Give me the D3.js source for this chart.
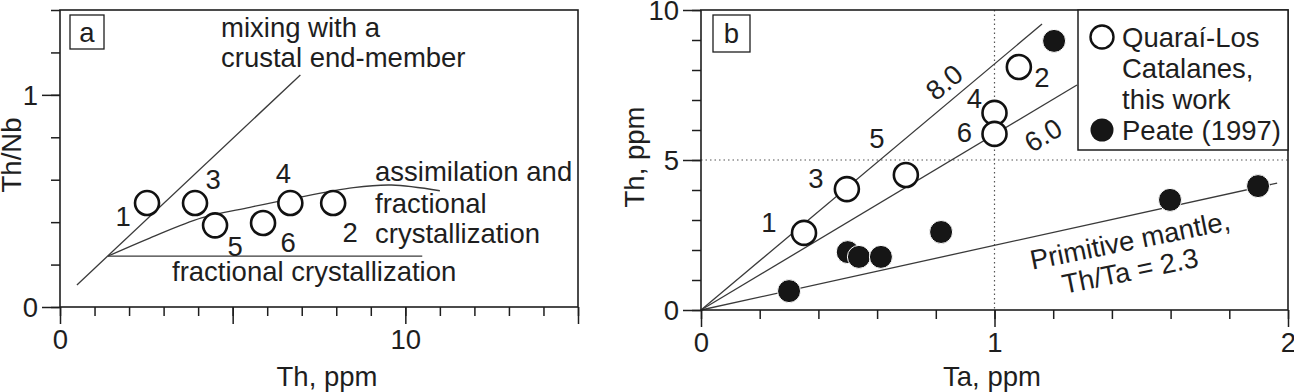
<!DOCTYPE html>
<html>
<head>
<meta charset="utf-8">
<script src="https://cdn.jsdelivr.net/npm/d3@7"></script>
<style>
  html, body { margin: 0; padding: 0; background: #fff; }
  svg text { font-family: "Liberation Sans", Arial, Helvetica, sans-serif; fill: #1e1e1e; }
</style>
</head>
<body>
<svg id="chart" width="1294" height="392"></svg>
<script>
// ---------------- DATA ----------------
// Panel a: Th/Nb vs Th (ppm)
const aSampleIds = ["1", "3", "5", "6", "4", "2"];
const aTh        = [2.52, 3.91, 4.49, 5.88, 6.67, 7.91];
const aThNb      = [0.49, 0.49, 0.385, 0.396, 0.49, 0.49];
const aXTickLabels = [0, 10];
const aYTickLabels = [0, 1];
// model trends (Th, Th/Nb)
const aMixingLine = [[0.49, 0.104], [6.96, 1.094]];
const aFracCryst  = [[1.39, 0.24], [10.49, 0.24]];
const aAFC        = [[1.39, 0.24], [2.6, 0.325], [4.1, 0.42], [5.5, 0.47], [6.7, 0.51], [8.5, 0.563], [9.6, 0.575], [11.0, 0.548]];

// Panel b: Th vs Ta (ppm)
const bSampleIds = ["1", "3", "5", "4", "6", "2"];
const bTaOpen    = [0.351, 0.497, 0.698, 1.0, 1.0, 1.083];
const bThOpen    = [2.57, 4.03, 4.5, 6.57, 5.87, 8.1];
const bTaPeate   = [0.30, 0.50, 0.538, 0.613, 0.818, 1.203, 1.598, 1.898];
const bThPeate   = [0.63, 1.93, 1.77, 1.77, 2.60, 8.97, 3.67, 4.13];
const bXTickLabels = [0, 1, 2];
const bYTickLabels = [0, 5, 10];
const bRatioNames  = ["8.0", "6.0", "Primitive mantle"];
const bRatioEnds   = [[1.162, 9.53], [1.281, 7.5], [1.963, 4.23]];
const legendLabels = [["Quaraí-Los", "Catalanes,", "this work"], ["Peate (1997)"]];

// ---------------- LAYOUT / STYLE ----------------
const FS = 27.5;
const INK = "#1e1e1e";
const LINE = "#3a3a3a";
const R = 12;

const svg = d3.select("#chart");

// scales
const ax = d3.scaleLinear().domain([0, 15]).range([60, 578]);
const ay = d3.scaleLinear().domain([0, 1.4]).range([307, 10]);
const bx = d3.scaleLinear().domain([0, 2]).range([701, 1288]);
const by = d3.scaleLinear().domain([0, 10]).range([310, 10]);

function frame(g, x, y) {
  const [x0, x1] = x.range(), [y0, y1] = y.range();
  g.append("rect").attr("x", x0).attr("y", y1).attr("width", x1 - x0).attr("height", y0 - y1)
    .attr("fill", "none").attr("stroke", INK).attr("stroke-width", 1.6);
}

function axes(g, x, y, xMinor, xMajor, yMinor, yMajor, xLabels, yLabels, xFmt, yFmt) {
  const gxMinor = g.append("g").attr("transform", `translate(0,${y.range()[0]})`)
    .call(d3.axisBottom(x).tickValues(xMinor).tickSize(9).tickFormat(""));
  const gxMajor = g.append("g").attr("transform", `translate(0,${y.range()[0]})`)
    .call(d3.axisBottom(x).tickValues(xMajor).tickSize(17).tickFormat(d => xLabels.includes(d) ? xFmt(d) : ""));
  const gyMinor = g.append("g").attr("transform", `translate(${x.range()[0]},0)`)
    .call(d3.axisLeft(y).tickValues(yMinor).tickSize(9).tickFormat(""));
  const gyMajor = g.append("g").attr("transform", `translate(${x.range()[0]},0)`)
    .call(d3.axisLeft(y).tickValues(yMajor).tickSize(18).tickFormat(d => yLabels.includes(d) ? yFmt(d) : ""));
  [gxMinor, gxMajor, gyMinor, gyMajor].forEach(a => {
    a.select(".domain").remove();
    a.selectAll(".tick line").attr("stroke", INK).attr("stroke-width", 1.5);
    a.selectAll("text").attr("font-size", FS).attr("fill", INK)
      .style("font-family", '"Liberation Sans", Arial, sans-serif');
  });
  gxMajor.selectAll("text").attr("y", 22).attr("dy", "0.71em");
  gyMajor.selectAll("text").attr("x", -22).attr("dy", "0.36em");
}

function panelLabel(g, x, y, s, t) {
  g.append("rect").attr("x", x).attr("y", y).attr("width", s).attr("height", s)
    .attr("fill", "#fff").attr("stroke", INK).attr("stroke-width", 1.3);
  g.append("text").attr("x", x + s / 2).attr("y", y + s / 2).attr("dy", "0.35em")
    .attr("text-anchor", "middle").attr("font-size", FS).text(t);
}

// ================= PANEL A =================
const ga = svg.append("g");
const line = d3.line().x(d => ax(d[0])).y(d => ay(d[1]));
ga.append("path").datum(aMixingLine).attr("d", line).attr("fill", "none").attr("stroke", LINE).attr("stroke-width", 1.3);
ga.append("path").datum(aFracCryst).attr("d", line).attr("fill", "none").attr("stroke", LINE).attr("stroke-width", 1.3);
ga.append("path").datum(aAFC).attr("d", line.curve(d3.curveCatmullRom)).attr("fill", "none").attr("stroke", LINE).attr("stroke-width", 1.3);

frame(ga, ax, ay);
axes(ga, ax, ay,
  d3.range(0, 16, 1), [0, 5, 10, 15],
  d3.range(0, 1.41, 0.2).map(v => +v.toFixed(1)), [0, 1],
  aXTickLabels, aYTickLabels, d3.format("d"), d3.format("d"));

panelLabel(ga, 70, 15, 34, "a");

// annotations
const annA = ga.append("g").attr("font-size", FS);
annA.append("text").attr("x", 221).attr("y", 37).text("mixing with a");
annA.append("text").attr("x", 221).attr("y", 67).text("crustal end-member");
annA.append("text").attr("x", 375).attr("y", 181).text("assimilation and");
annA.append("text").attr("x", 375).attr("y", 213).text("fractional");
annA.append("text").attr("x", 375).attr("y", 243).text("crystallization");
annA.append("text").attr("x", 172).attr("y", 281).text("fractional crystallization");

// samples
const aLabelOffsets = { "1": [-24, 13], "3": [18, -24], "5": [20, 21], "6": [25, 19], "4": [-7, -30], "2": [17, 29] };
const aPts = aSampleIds.map((id, i) => ({ id, x: aTh[i], y: aThNb[i] }));
ga.selectAll("circle.s").data(aPts).join("circle")
  .attr("cx", d => ax(d.x)).attr("cy", d => ay(d.y)).attr("r", R)
  .attr("fill", "#fff").attr("stroke", "#111").attr("stroke-width", 2.6);
ga.selectAll("text.id").data(aPts).join("text").attr("class", "id")
  .attr("x", d => ax(d.x) + aLabelOffsets[d.id][0]).attr("y", d => ay(d.y) + aLabelOffsets[d.id][1])
  .attr("dy", "0.36em").attr("text-anchor", "middle").attr("font-size", FS).text(d => d.id);

// axis titles
ga.append("text").attr("x", 327).attr("y", 386).attr("text-anchor", "middle").attr("font-size", FS).text("Th, ppm");
ga.append("text").attr("transform", "translate(21,155) rotate(-90)").attr("text-anchor", "middle").attr("font-size", FS).text("Th/Nb");

// ================= PANEL B =================
const gb = svg.append("g");
gb.append("line").attr("x1", bx(1)).attr("x2", bx(1)).attr("y1", by(10)).attr("y2", by(0))
  .attr("stroke", "#555").attr("stroke-width", 1.2).attr("stroke-dasharray", "1.5,3");
gb.append("line").attr("x1", bx(0)).attr("x2", bx(2)).attr("y1", by(5)).attr("y2", by(5))
  .attr("stroke", "#555").attr("stroke-width", 1.2).attr("stroke-dasharray", "1.5,3");

bRatioEnds.forEach(e => {
  gb.append("line").attr("x1", bx(0)).attr("y1", by(0)).attr("x2", bx(e[0])).attr("y2", by(e[1]))
    .attr("stroke", LINE).attr("stroke-width", 1.3);
});
function lineAngle(e) {
  return Math.atan2(by(e[1]) - by(0), bx(e[0]) - bx(0)) * 180 / Math.PI;
}
gb.append("text").attr("transform", `translate(944,82) rotate(${lineAngle(bRatioEnds[0])})`)
  .attr("text-anchor", "middle").attr("dy", "0.36em").attr("font-size", FS).text(bRatioNames[0]);
gb.append("text").attr("transform", `translate(1043,135) rotate(${lineAngle(bRatioEnds[1])})`)
  .attr("text-anchor", "middle").attr("dy", "0.36em").attr("font-size", FS).text(bRatioNames[1]);
const pm = gb.append("text").attr("transform", `translate(1130,240) rotate(${lineAngle(bRatioEnds[2]) + 1})`)
  .attr("text-anchor", "middle").attr("font-size", FS);
pm.append("tspan").attr("x", 0).attr("y", 0).attr("dy", "0.36em").text(bRatioNames[2] + ",");
pm.append("tspan").attr("x", -6).attr("y", 30).attr("dy", "0.36em").text("Th/Ta = 2.3");

frame(gb, bx, by);
axes(gb, bx, by,
  d3.range(0, 2.01, 0.2).map(v => +v.toFixed(1)), [0, 1, 2],
  d3.range(0, 11, 1), [0, 5, 10],
  bXTickLabels, bYTickLabels, d3.format("d"), d3.format("d"));

panelLabel(gb, 713, 15, 37, "b");

const bPeate = bTaPeate.map((t, i) => ({ x: t, y: bThPeate[i] }));
gb.selectAll("circle.p").data(bPeate).join("circle").attr("class", "p")
  .attr("cx", d => bx(d.x)).attr("cy", d => by(d.y)).attr("r", 11.5)
  .attr("fill", "#161616").attr("stroke", "#fff").attr("stroke-width", 1);

const bLabelOffsets = { "1": [-35, -11], "3": [-31, -11], "5": [-29, -37], "4": [-20, -15], "6": [-30, -2], "2": [23, 10] };
const bOpen = bSampleIds.map((id, i) => ({ id, x: bTaOpen[i], y: bThOpen[i] }));
gb.selectAll("circle.o").data(bOpen).join("circle").attr("class", "o")
  .attr("cx", d => bx(d.x)).attr("cy", d => by(d.y)).attr("r", R)
  .attr("fill", "#fff").attr("stroke", "#111").attr("stroke-width", 2.6);
gb.selectAll("text.id").data(bOpen).join("text").attr("class", "id")
  .attr("x", d => bx(d.x) + bLabelOffsets[d.id][0]).attr("y", d => by(d.y) + bLabelOffsets[d.id][1])
  .attr("dy", "0.36em").attr("text-anchor", "middle").attr("font-size", FS).text(d => d.id);

// legend
const lg = gb.append("g");
lg.append("rect").attr("x", 1078).attr("y", by(10)).attr("width", bx(2) - 1078).attr("height", 140)
  .attr("fill", "#fff").attr("stroke", INK).attr("stroke-width", 1.5);
lg.append("circle").attr("cx", 1102).attr("cy", 37).attr("r", 11.5).attr("fill", "#fff").attr("stroke", "#111").attr("stroke-width", 2.4);
legendLabels[0].forEach((t, i) => {
  lg.append("text").attr("x", 1122).attr("y", 37 + i * 31).attr("dy", "0.36em").attr("font-size", FS).text(t);
});
lg.append("circle").attr("cx", 1102).attr("cy", 130).attr("r", 11.5).attr("fill", "#161616");
lg.append("text").attr("x", 1122).attr("y", 130).attr("dy", "0.36em").attr("font-size", FS).text(legendLabels[1][0]);

gb.append("text").attr("x", 992).attr("y", 386).attr("text-anchor", "middle").attr("font-size", FS).text("Ta, ppm");
gb.append("text").attr("transform", "translate(644,157) rotate(-90)").attr("text-anchor", "middle").attr("font-size", FS).text("Th, ppm");
</script>
</body>
</html>
